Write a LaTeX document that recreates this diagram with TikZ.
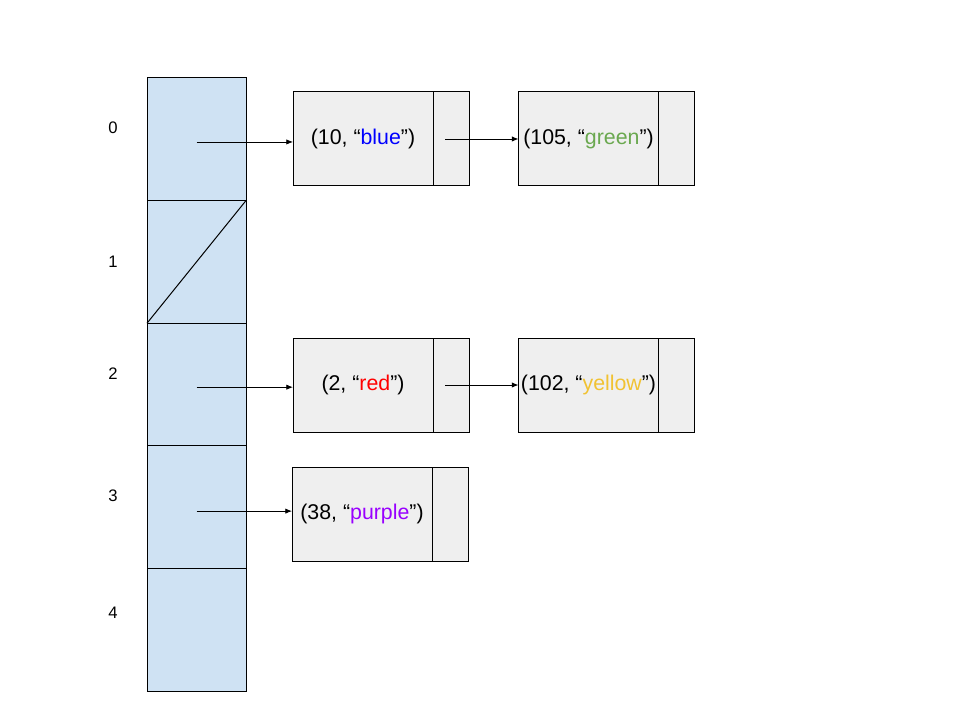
\documentclass[tikz,border=0pt]{standalone}
\usepackage{fontspec}
\setmainfont{Liberation Sans}
\usepackage{tikz}
\usetikzlibrary{arrows.meta, positioning}
\definecolor{slotcolor}{HTML}{CFE2F3}
\definecolor{boxcolor}{HTML}{EFEFEF}
\definecolor{valblue}{HTML}{0000FF}
\definecolor{valgreen}{HTML}{6AA84F}
\definecolor{valred}{HTML}{FF0000}
\definecolor{valyellow}{HTML}{F1C232}
\definecolor{valpurple}{HTML}{9900FF}
\tikzstyle{slot} = [rectangle, draw, line width=0.75pt, fill=slotcolor, outer sep=0pt,
                    minimum width=74.25pt, minimum height=92pt]
\tikzstyle{entry} = [rectangle, draw, line width=0.75pt, fill=boxcolor, outer sep=0pt,
                     inner xsep=1pt, minimum width=105pt, minimum height=70.5pt,
                     text centered, font=\fontsize{16}{19}\selectfont]
\tikzstyle{nextptr} = [entry, minimum width=27pt]
\tikzstyle{index} = [font=\fontsize{12.5}{15}\selectfont]
\tikzstyle{arrow} = [-{Latex[length=5pt, width=4pt]}, line width=0.6pt]

\begin{document}
\begin{tikzpicture}[x=0.75pt, y=-0.75pt]
    \useasboundingbox (0,0) rectangle (960,720);
    % Hash table slots
    \foreach \i in {0,...,4}
        \node[slot] (slot\i) at (196.5, 139.3+122.6*\i) {};
    \draw[line width=0.75pt] (slot1.south west) -- (slot1.north east);
    \foreach \i/\y in {0/128, 1/262, 2/374, 3/496, 4/613}
        \node[index] (idx\i) at (113, \y) {\i};

    % Chained entries
    \node[entry] (blue) at (363, 139) {(10, “\textcolor{valblue}{blue}”)};
    \node[nextptr, right=0pt of blue] (bluenext) {};
    \node[entry] (green) at (588.5, 139) {(105, “\textcolor{valgreen}{green}”)};
    \node[nextptr, right=0pt of green] (greennext) {};
    \node[entry] (red) at (363, 385) {(2, “\textcolor{valred}{red}”)};
    \node[nextptr, right=0pt of red] (rednext) {};
    \node[entry] (yellow) at (588.5, 385) {(102, “\textcolor{valyellow}{yellow}”)};
    \node[nextptr, right=0pt of yellow] (yellownext) {};
    \node[entry] (purple) at (362, 514) {(38, “\textcolor{valpurple}{purple}”)};
    \node[nextptr, right=0pt of purple] (purplenext) {};

    % Pointers
    \draw[arrow] ([yshift=-2pt]slot0.center) -- ([yshift=-2pt]slot0.center -| blue.west);
    \draw[arrow] ([xshift=-4.5pt]bluenext.center) -- (green);
    \draw[arrow] ([yshift=-2pt]slot2.center) -- ([yshift=-2pt]slot2.center -| red.west);
    \draw[arrow] ([xshift=-4.5pt]rednext.center) -- (yellow);
    \draw[arrow] ([yshift=-3pt]slot3.center) -- ([yshift=-3pt]slot3.center -| purple.west);
\end{tikzpicture}
\end{document}
